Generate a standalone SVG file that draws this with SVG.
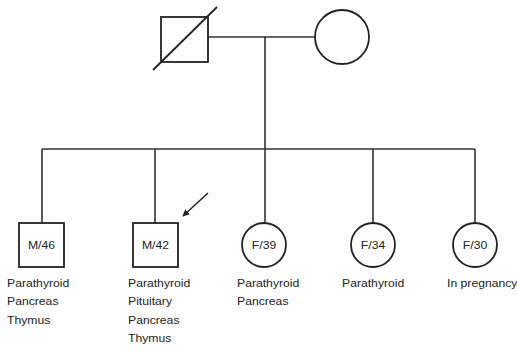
<svg xmlns="http://www.w3.org/2000/svg" width="517" height="351" viewBox="0 0 517 351">
<style>
.n{fill:#fff;stroke:#222;stroke-width:1.8}
.c{fill:none;stroke:#333;stroke-width:1.6}
.t{font-family:"Liberation Sans",Arial,sans-serif;font-size:10px;fill:#222}
.m{text-anchor:middle}
</style>
<defs>
<marker id="ah" viewBox="0 0 10 10" refX="9" refY="5" markerWidth="7" markerHeight="7" orient="auto" markerUnits="userSpaceOnUse">
<path d="M0,0 L10,5 L0,10 z" fill="#222"/>
</marker>
</defs>
<g id="connectors">
<line class="c" x1="208" y1="37" x2="315" y2="37"/>
<line class="c" x1="265" y1="37" x2="265" y2="149"/>
<line class="c" x1="42" y1="149" x2="475" y2="149"/>
<line class="c" x1="42" y1="149" x2="42" y2="223"/>
<line class="c" x1="155" y1="149" x2="155" y2="223"/>
<line class="c" x1="265" y1="149" x2="265" y2="223"/>
<line class="c" x1="373" y1="149" x2="373" y2="223"/>
<line class="c" x1="475" y1="149" x2="475" y2="223"/>
<line x1="208" y1="193" x2="183" y2="216" stroke="#222" stroke-width="1.6" marker-end="url(#ah)"/>
</g>
<g id="father">
<rect class="n" x="161" y="17" width="47" height="45"/>
<line x1="153" y1="70" x2="217" y2="7" stroke="#222" stroke-width="1.8"/>
</g>
<g id="mother">
<circle class="n" cx="342" cy="37" r="27"/>
</g>
<g id="m46">
<rect class="n" x="19" y="223" width="45" height="44"/>
<text class="t m" transform="translate(41.5,249) scale(1.22,1)">M/46</text>
<g transform="translate(7,0) scale(1.22,1)">
<text class="t" x="0" y="287">Parathyroid</text>
<text class="t" x="0" y="305.5">Pancreas</text>
<text class="t" x="0" y="324">Thymus</text>
</g>
</g>
<g id="m42">
<rect class="n" x="133" y="223" width="45" height="44"/>
<text class="t m" transform="translate(155.5,249) scale(1.22,1)">M/42</text>
<g transform="translate(128,0) scale(1.22,1)">
<text class="t" x="0" y="287">Parathyroid</text>
<text class="t" x="0" y="305.5">Pituitary</text>
<text class="t" x="0" y="324">Pancreas</text>
<text class="t" x="0" y="342.5">Thymus</text>
</g>
</g>
<g id="f39">
<circle class="n" cx="264" cy="245" r="22"/>
<text class="t m" transform="translate(264,249) scale(1.22,1)">F/39</text>
<g transform="translate(237,0) scale(1.22,1)">
<text class="t" x="0" y="287">Parathyroid</text>
<text class="t" x="0" y="305.5">Pancreas</text>
</g>
</g>
<g id="f34">
<circle class="n" cx="373" cy="245" r="22"/>
<text class="t m" transform="translate(373,249) scale(1.22,1)">F/34</text>
<g transform="translate(342,0) scale(1.22,1)">
<text class="t" x="0" y="287">Parathyroid</text>
</g>
</g>
<g id="f30">
<circle class="n" cx="475" cy="245" r="22"/>
<text class="t m" transform="translate(475,249) scale(1.22,1)">F/30</text>
<g transform="translate(447,0) scale(1.22,1)">
<text class="t" x="0" y="287">In pregnancy</text>
</g>
</g>
</svg>
